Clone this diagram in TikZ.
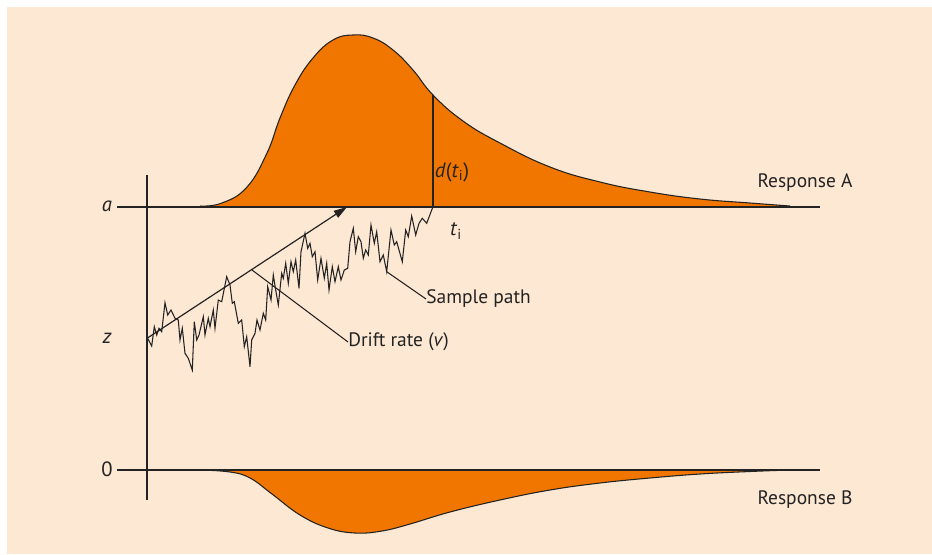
\documentclass[tikz,border=0pt]{standalone}
\usepackage{fontspec}
\setmainfont{PT Sans}
\usetikzlibrary{arrows.meta}
\definecolor{bgpeach}{RGB}{253,232,212}
\definecolor{distorange}{RGB}{240,118,0}
\definecolor{inkgray}{RGB}{35,35,35}
\tikzset{
  axisline/.style={draw=inkgray, line width=1pt},
  curveline/.style={draw=inkgray, line width=0.8pt},
  pathline/.style={draw=inkgray, line width=0.8pt, line join=miter},
  leader/.style={draw=inkgray, line width=0.8pt},
  lbl/.style={font=\fontsize{14.6}{17}\selectfont, text=inkgray, inner sep=0pt},
  axlbl/.style={font=\fontsize{15.5}{17}\selectfont\itshape, text=inkgray, inner sep=0pt},
}
\begin{document}
\begin{tikzpicture}[x=0.75pt,y=-0.75pt]
\useasboundingbox (0,0) rectangle (932,554);
\fill[bgpeach] (7,7) rectangle (932,554);

% top distribution (Response A)
\fill[distorange] plot[smooth, tension=0.75] coordinates {(200,206) (222,203) (247,187) (267,153) (280,118) (295,85) (313,58) (333,40) (353,35) (373,38) (393,50) (413,70) (433,95) (463,121) (500,143) (550,167) (600,182) (650,192) (700,199) (750,203) (790,206)} -- (790,207) -- (200,207) -- cycle;
\draw[curveline] plot[smooth, tension=0.75] coordinates {(200,206) (222,203) (247,187) (267,153) (280,118) (295,85) (313,58) (333,40) (353,35) (373,38) (393,50) (413,70) (433,95) (463,121) (500,143) (550,167) (600,182) (650,192) (700,199) (750,203) (790,206)};

% bottom distribution (Response B)
\fill[distorange] plot[smooth, tension=0.7] coordinates {(200,470) (230,472) (250,478) (272,494) (300,515) (328,528) (355,533) (382,531) (410,524) (450,512) (500,500) (550,490) (600,483) (650,478) (700,474) (750,471.5) (790,470)} -- cycle;
\draw[curveline] plot[smooth, tension=0.7] coordinates {(200,470) (230,472) (250,478) (272,494) (300,515) (328,528) (355,533) (382,531) (410,524) (450,512) (500,500) (550,490) (600,483) (650,478) (700,474) (750,471.5) (790,470)};

% axes
\coordinate (vtop) at (147,175);
\coordinate (vbot) at (147,500);
\coordinate (aL) at (117,207);
\coordinate (aR) at (820,207);
\coordinate (zL) at (117,470);
\coordinate (zR) at (820,470);
\draw[axisline] (vtop) -- (vbot);
\draw[axisline] (aL) -- (aR);
\draw[axisline] (zL) -- (zR);

% d(t_i) vertical
\coordinate (ti) at (433,207);
\coordinate (dtop) at (433,95);
\draw[curveline] (ti) -- (dtop);

% sample path
\coordinate (start) at (147.5,338);
\draw[pathline] (start) -- (151.7,346) -- (154.3,326.7) -- (156.7,335) -- (159,328.3) -- (161.7,331.7) -- (165,302.7) -- (167.7,315) -- (171,310) -- (175,318.3) -- (178.3,320) -- (180,340) -- (182.3,328.3) -- (185,353.3) -- (188.3,358.3) -- (192.3,370) -- (194.3,321.7) -- (196.7,340) -- (199,335) -- (203.3,316.7) -- (205,335) -- (208.3,318.3) -- (210,326.7) -- (213.3,310) -- (215,328.3) -- (218.3,300) -- (221.7,301.7) -- (226.7,276.7) -- (230,285) -- (232.3,303.3) -- (234.3,301.7) -- (238.3,323.3) -- (241.7,320) -- (244.3,346.7) -- (246.7,336.7) -- (250,366.7) -- (251.7,340) -- (255,333.3) -- (257,320) -- (260,330) -- (263.3,313.3) -- (265.7,320) -- (267.7,286.7) -- (271,300) -- (273.3,275) -- (275.7,290) -- (278.3,305) -- (281.7,273.3) -- (283.3,278.3) -- (285.7,263.3) -- (288.3,283.3) -- (291,261.7) -- (293.3,271.7) -- (295.7,260) -- (299,288.3) -- (301,251.7) -- (305,233.3) -- (307.7,248.3) -- (310,243.3) -- (312.3,256.7) -- (315,251.7) -- (317.7,280) -- (321,258.3) -- (324.3,278.3) -- (326.7,263.3) -- (329,290) -- (332.3,266.7) -- (335,281.7) -- (338.3,266.7) -- (341,280) -- (344.3,270) -- (347.7,268.3) -- (350,241.7) -- (353.3,228.3) -- (355.7,251.7) -- (358.3,236.7) -- (361,241.7) -- (363.3,258.3) -- (365.7,250) -- (368.3,255) -- (371,225) -- (374.3,243.3) -- (376.7,231.7) -- (380,261.7) -- (383.3,255) -- (386.7,271.7) -- (391,230) -- (394.3,245) -- (396.7,241.7) -- (399,250) -- (402.3,261.7) -- (405.7,230) -- (408.3,236.7) -- (411.7,216) -- (415.7,235) -- (419,223.3) -- (422.3,218.3) -- (426.7,223.3) -- (431.7,210) -- (ti);

% drift arrow
\coordinate (drifttip) at (347,207);
\draw[pathline, line width=0.9pt, -{Triangle[length=10pt,width=6pt]}] (start) -- (drifttip);

% labels
\node[axlbl] (la) at (107,206) {a};
\node[axlbl] (lz) at (107,338) {z};
\node[lbl, font=\fontsize{15.5}{17}\selectfont] (l0) at (107,469) {0};
\node[lbl, font=\fontsize{15.5}{17}\selectfont] (ldt) at (452,172) {\textit{d}(\textit{t}\textsubscript{i})};
\node[lbl, font=\fontsize{15.5}{17}\selectfont] (lti) at (456,231) {\textit{t}\textsubscript{i}};
\node[lbl] (respA) at (805,183) {Response A};
\node[lbl] (respB) at (805,500) {Response B};
\node[lbl, anchor=west] (sp) at (426,299) {Sample path};
\node[lbl, anchor=west] (dr) at (348,342) {Drift rate (\textit{v})};

% leaders
\coordinate (spfoot) at (386.7,271.7);
\coordinate (drfoot) at (252,270);
\draw[leader] (spfoot) -- (sp.west);
\draw[leader] (drfoot) -- (dr.west);
\end{tikzpicture}
\end{document}
